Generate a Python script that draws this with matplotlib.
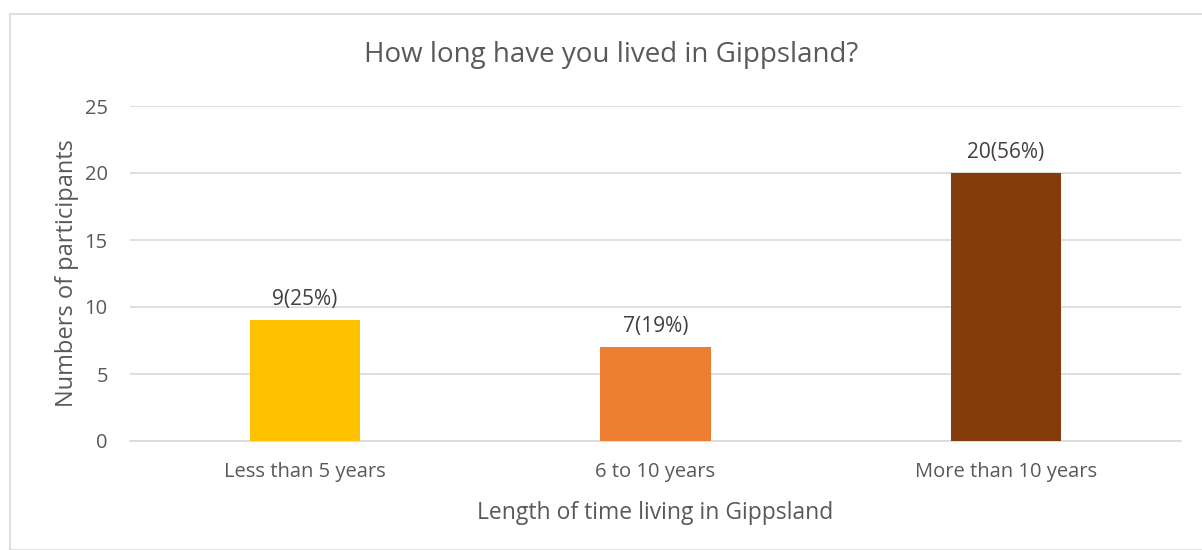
import matplotlib.pyplot as plt
from matplotlib.patches import Rectangle

categories = ['Less than 5 years', '6 to 10 years', 'More than 10 years']
counts = [9, 7, 20]
labels = ['9(25%)', '7(19%)', '20(56%)']
colors = ['#FFC000', '#ED7D31', '#843C0C']

plt.rcParams['font.family'] = ['Open Sans', 'DejaVu Sans']
txt = '#595959'

fig = plt.figure(figsize=(12.02, 5.5), dpi=100)
W, H = 1202, 550
ax = fig.add_axes([130 / W, 1 - 441 / H, (1181 - 130) / W, (441 - 106) / H])

# chart frame
fig.patches.append(Rectangle((9.5 / W, 0), 1.2, 1 - 13.5 / H, transform=fig.transFigure,
                             fill=False, edgecolor='#d9d9d9', lw=1.2))

x = range(len(categories))
bars = ax.bar(x, counts, width=0.314, color=colors, zorder=3)
for b, lab in zip(bars, labels):
    ax.text(b.get_x() + b.get_width() / 2, b.get_height() + 0.75, lab,
            ha='center', va='bottom', fontsize=15, color='#404040')

ax.set_xlim(-0.5, 2.5)
ax.set_ylim(0, 25)
ax.set_yticks(range(0, 26, 5))
ax.set_xticks(list(x))
ax.set_xticklabels(categories)
ax.grid(axis='y', color='#d9d9d9', lw=1.2, zorder=0)
for s in ['top', 'right', 'left']:
    ax.spines[s].set_visible(False)
ax.spines['bottom'].set_color('#d9d9d9')
ax.spines['bottom'].set_linewidth(1.2)
ax.tick_params(length=0, labelsize=14.5, labelcolor=txt, pad=15)
ax.tick_params(axis='y', pad=16)

ax.set_ylabel('Numbers of participants', fontsize=17, color=txt, labelpad=4)
ax.set_xlabel('Length of time living in Gippsland', fontsize=16.5, color=txt, labelpad=14)
fig.text(611 / W, 1 - 55 / H, 'How long have you lived in Gippsland?', ha='center', va='center',
         fontsize=20, color=txt)

fig.savefig('out.png', dpi=100)
